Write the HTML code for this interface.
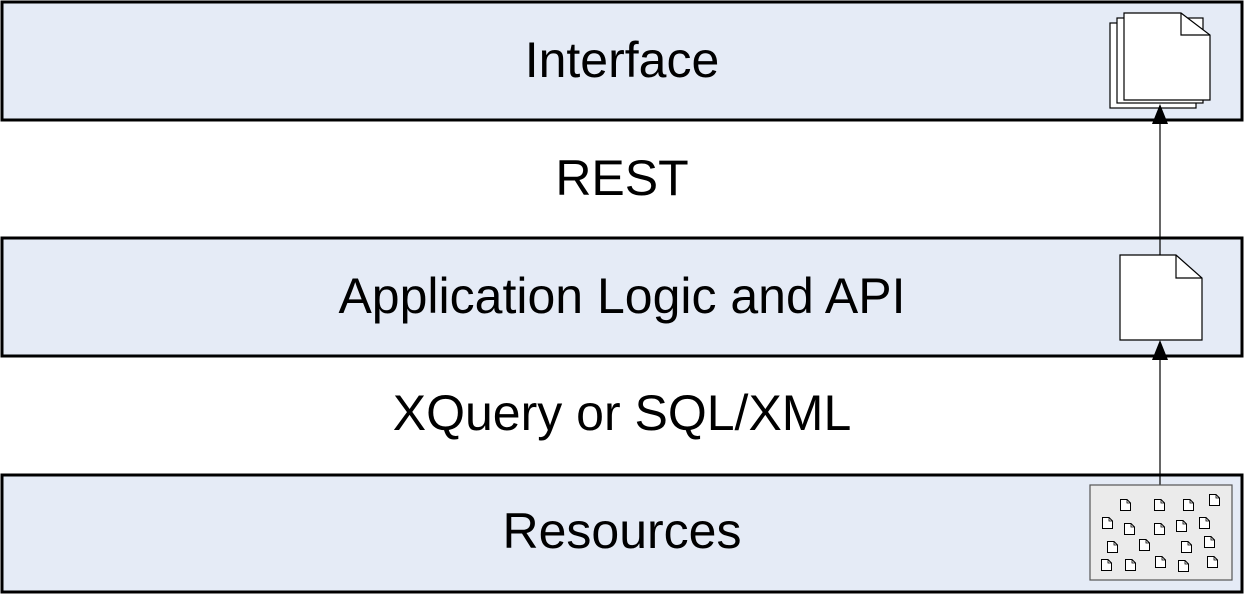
<!DOCTYPE html>
<html><head><style>
body{margin:0;background:#fff;}
svg{display:block;font-family:"Liberation Sans",Arial,sans-serif;}
</style></head><body>
<svg width="1245" height="595" viewBox="0 0 1245 595" xmlns="http://www.w3.org/2000/svg">
<defs>
<symbol id="d" viewBox="0 0 11 12"><path d="M0.5 0.5H7L10.5 4V11.5H0.5Z" fill="#fff" stroke="#000" stroke-width="1"/><path d="M7 0.5V4H10.5" fill="none" stroke="#000" stroke-width="0.8"/></symbol>
</defs>
<rect x="2" y="2" width="1240" height="118" fill="#e5ebf6" stroke="#000" stroke-width="3"/>
<rect x="2" y="238" width="1240" height="118" fill="#e5ebf6" stroke="#000" stroke-width="3"/>
<rect x="2" y="475" width="1240" height="117" fill="#e5ebf6" stroke="#000" stroke-width="3"/>
<g font-size="50" text-anchor="middle" fill="#000">
<text x="622" y="77">Interface</text>
<text x="622" y="195">REST</text>
<text x="622" y="313">Application Logic and API</text>
<text x="622" y="430">XQuery or SQL/XML</text>
<text x="622" y="548">Resources</text>
</g>
<g stroke="#000" stroke-width="1.2" fill="#fff">
<rect x="1110" y="23" width="86" height="85"/>
<rect x="1117" y="18" width="86" height="85"/>
<path d="M1124 13H1181L1210 35V100H1124Z"/>
<path d="M1181 13V35H1210" fill="none"/>
</g>
<g stroke="#000" stroke-width="1.2" fill="#fff">
<path d="M1120 255H1176L1202 278V340H1120Z"/>
<path d="M1176 255V278H1202" fill="none"/>
</g>
<line x1="1160" y1="255" x2="1160" y2="120" stroke="#000" stroke-width="1.2"/>
<path d="M1160 104L1152 124H1168Z"/>
<line x1="1160" y1="485" x2="1160" y2="355" stroke="#000" stroke-width="1.2"/>
<path d="M1160 340L1152 360H1168Z"/>
<rect x="1090" y="485" width="142" height="95" fill="#ebebeb" stroke="#555" stroke-width="1.2"/>
<g>
<use href="#d" x="1120" y="499" width="11" height="12"/>
<use href="#d" x="1154" y="499" width="11" height="12"/>
<use href="#d" x="1183" y="499" width="11" height="12"/>
<use href="#d" x="1209" y="494" width="11" height="12"/>
<use href="#d" x="1102" y="517" width="11" height="12"/>
<use href="#d" x="1124" y="523" width="11" height="12"/>
<use href="#d" x="1154" y="523" width="11" height="12"/>
<use href="#d" x="1176" y="520" width="11" height="12"/>
<use href="#d" x="1199" y="517" width="11" height="12"/>
<use href="#d" x="1107" y="541" width="11" height="12"/>
<use href="#d" x="1139" y="539" width="11" height="12"/>
<use href="#d" x="1181" y="541" width="11" height="12"/>
<use href="#d" x="1204" y="536" width="11" height="12"/>
<use href="#d" x="1101" y="559" width="11" height="12"/>
<use href="#d" x="1125" y="559" width="11" height="12"/>
<use href="#d" x="1155" y="556" width="11" height="12"/>
<use href="#d" x="1178" y="560" width="11" height="12"/>
<use href="#d" x="1207" y="556" width="11" height="12"/>
</g>
</svg>
</body></html>
